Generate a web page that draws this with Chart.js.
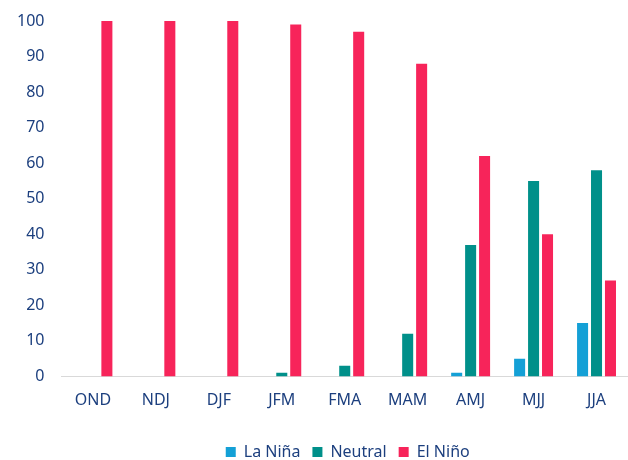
<!DOCTYPE html>
<html>
<head>
<meta charset="utf-8">
<script src="https://cdn.jsdelivr.net/npm/chart.js@4/dist/chart.umd.min.js"></script>
<style>
  html, body { margin: 0; padding: 0; background: #fff; }
  #wrap { width: 628px; height: 460px; }
</style>
</head>
<body>
<div id="wrap"><canvas id="ensoChart" width="628" height="460"></canvas></div>
<script>
const seasons = ["OND", "NDJ", "DJF", "JFM", "FMA", "MAM", "AMJ", "MJJ", "JJA"];
const laNina = [0, 0, 0, 0, 0, 0, 1, 5, 15];
const neutral = [0, 0, 0, 1, 3, 12, 37, 55, 58];
const elNino = [100, 100, 100, 99, 97, 88, 62, 40, 27];
const yTicks = [0, 10, 20, 30, 40, 50, 60, 70, 80, 90, 100];

const textColor = "#1c3f7e";
const fontFamily = "'Noto Sans', sans-serif";

// legend is centred under the plot area rather than the whole canvas
const legendShift = {
  id: "legendShift",
  afterLayout(chart) {
    const dx = (chart.chartArea.left - chart.legend.left) / 2 + 3;
    chart.legend.left += dx;
    chart.legend.right += dx;
  }
};

new Chart(document.getElementById("ensoChart"), {
  type: "bar",
  data: {
    labels: seasons,
    datasets: [
      { label: "La Niña", data: laNina, backgroundColor: "#14a0d6" },
      { label: "Neutral", data: neutral, backgroundColor: "#00908a" },
      { label: "El Niño", data: elNino, backgroundColor: "#f7245a" }
    ]
  },
  options: {
    responsive: false,
    animation: false,
    layout: { padding: { top: 21, right: 0, left: 0, bottom: -10 } },
    datasets: {
      bar: { categoryPercentage: 0.665, barPercentage: 0.79 }
    },
    plugins: {
      legend: {
        position: "bottom",
        labels: {
          color: textColor,
          font: { family: fontFamily, size: 16 },
          boxWidth: 10,
          boxHeight: 10,
          padding: 12
        }
      },
      tooltip: { enabled: false }
    },
    scales: {
      x: {
        grid: { display: false, drawTicks: false },
        border: { display: true, color: "#d9d9d9", width: 1 },
        ticks: {
          color: textColor,
          font: { family: fontFamily, size: 16 },
          padding: 14
        },
        title: { display: true, text: "", font: { size: 7 }, padding: 0 }
      },
      y: {
        min: 0,
        max: 100,
        afterBuildTicks: axis => { axis.ticks = yTicks.map(v => ({ value: v })); },
        // tick padding would otherwise also push the plot top down
        afterFit: axis => { axis.paddingTop = 0; },
        grid: { display: false, drawTicks: false },
        border: { display: false },
        ticks: {
          color: textColor,
          font: { family: fontFamily, size: 16 },
          padding: 17
        }
      }
    }
  },
  plugins: [legendShift]
});
</script>
</body>
</html>
